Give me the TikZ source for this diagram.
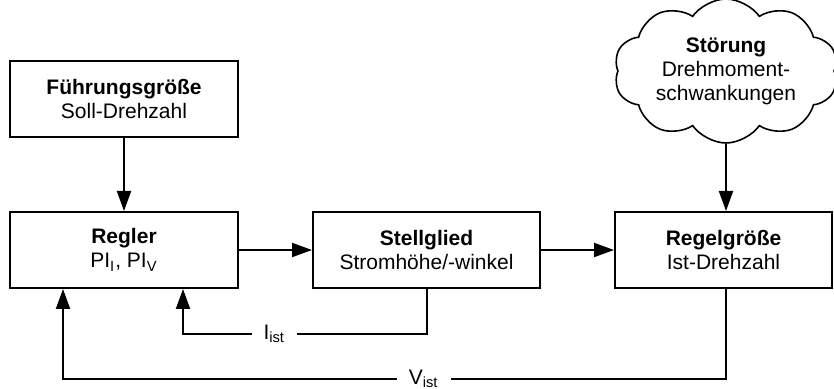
\documentclass[tikz,border=0pt]{standalone}
\usepackage{fontspec}
\setmainfont{Liberation Sans}
\usepackage{tikz}
\usetikzlibrary{shapes,
								arrows.meta,
								calc,
								positioning,
								shapes.symbols}

\begin{document}
\begin{tikzpicture}[x=0.5pt,y=-0.5pt,
  every node/.style={font=\fontsize{10.5}{12}\selectfont, align=center},
  block/.style={draw, line width=1pt, minimum width=114pt, minimum height=38pt, inner sep=0pt},
  wolke/.style={draw, cloud, cloud puffs=10, cloud puff arc=110, cloud ignores aspect, line width=0.8pt, minimum width=112pt, minimum height=72pt, inner sep=0pt},
  pfeil/.style={line width=1pt, -{Triangle[length=10pt,width=7pt]}},
  wert/.style={fill=white, inner xsep=6pt, inner ysep=1pt}]
  \useasboundingbox (0,0) rectangle (834,389);

  % Bloecke des Regelkreises
  \node[block] (fuehrung) at (124,99) {\textbf{Führungsgröße}\\Soll-Drehzahl};
  \node[block] (regler) at (124,250) {\textbf{Regler}\\PI\textsubscript{I}, PI\textsubscript{V}};
  \node[block, minimum width=113.5pt] (stell) at (426.5,250) {\textbf{Stellglied}\\Stromhöhe/-winkel};
  \node[block, minimum width=108.5pt] (regel) at (723.5,250) {\textbf{Regelgröße}\\Ist-Drehzahl};
  \node[wolke] (stoer) at (726,71) {\textbf{Störung}\\Drehmoment-\\schwankungen};

  \draw[pfeil] (fuehrung) -- (regler);
  \draw[pfeil] (regler) -- (stell);
  \draw[pfeil] (stell) -- (regel);
  \draw[pfeil] (stoer.south) -- (stoer.south |- regel.north);

  % Rueckfuehrungen
  \coordinate (ir) at ($(regler.south)+(59,0)$);
  \coordinate (vr) at ($(regler.south)+(-61,0)$);
  \draw[pfeil] (stell.south) -- ++(0,45) -| node[wert, pos=0.3125] (iist) {I\textsubscript{ist}} (ir);
  \draw[pfeil] (regel.south -| stoer.south) -- ++(0,90) -| node[wert, pos=0.228] (vist) {V\textsubscript{ist}} (vr);
\end{tikzpicture}
\end{document}
